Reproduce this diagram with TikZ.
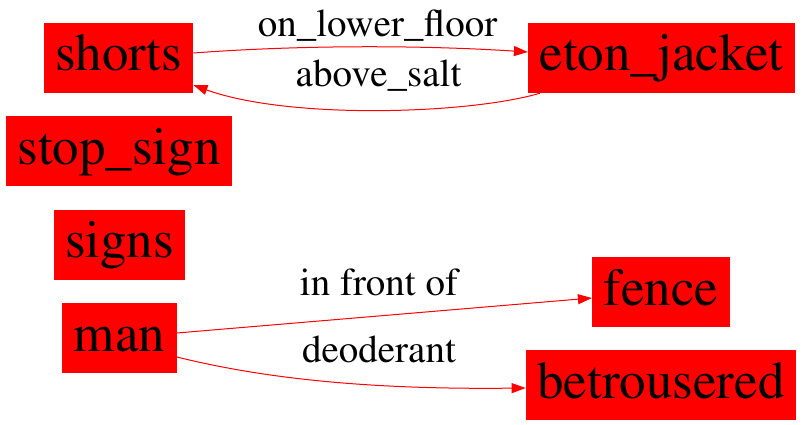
\documentclass[tikz,border=0pt]{standalone}
\usepackage[T1]{fontenc}
\usepackage{times}
\usetikzlibrary{arrows.meta}

\begin{document}
\begin{tikzpicture}[x=1pt,y=-1pt,
  obj/.style={fill=red,inner xsep=11.5pt,inner ysep=0pt,minimum height=70pt,
    text height=36pt,text depth=10pt,font=\fontsize{53}{60}\selectfont},
  rel/.style={anchor=base,inner sep=0pt,font=\fontsize{39}{45}\selectfont},
  edge/.style={red,line width=1pt,-{Triangle[length=14pt,width=10pt]}}]
\useasboundingbox (0,0) rectangle (804,425);
% objects
\node[obj] (shorts) at (118.5,58) {shorts};
\node[obj] (eton) at (661.5,58) {eton\_jacket};
\node[obj] (stopsign) at (119,151.5) {stop\_sign};
\node[obj] (signs) at (119.5,245) {signs};
\node[obj] (man) at (119.5,338) {man};
\node[obj] (fence) at (661,292) {fence};
\node[obj] (betrousered) at (661,385) {betrousered};
% relations
\node[rel] (onlower) at (377.5,37) {on\_lower\_floor};
\node[rel] (abovesalt) at (378.5,87) {above\_salt};
\node[rel] (infront) at (379,295) {in front of};
\node[rel] (deoderant) at (379,362) {deoderant};
\draw[edge] ([yshift=5pt]shorts.east) .. controls (300,45) and (420,45) .. ([yshift=6pt]eton.west);
\draw[edge] ([xshift=12pt]eton.south west) .. controls (470,114) and (290,120) .. ([yshift=8pt]shorts.south east);
\draw[edge] ([yshift=5pt]man.east) -- ([yshift=-6pt]fence.west);
\draw[edge] ([yshift=-19pt]man.east) .. controls (250,375) and (350,390) .. ([yshift=-3pt]betrousered.west);
\end{tikzpicture}
\end{document}
